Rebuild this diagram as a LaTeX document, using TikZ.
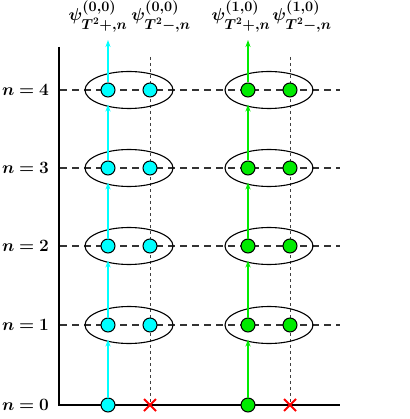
\documentclass[tikz,border=0pt]{standalone}
\usepackage{amsmath,bm}
\usetikzlibrary{arrows.meta,shapes.geometric}
\DeclareMathSizes{19}{19}{13.5}{10}
\DeclareMathSizes{17}{17}{12}{9}
\definecolor{cy}{RGB}{0,255,255}
\definecolor{gr}{RGB}{0,235,0}
\begin{document}
\begin{tikzpicture}[x=1pt,y=-1pt,
  dot/.style={circle,draw=black,line width=1pt,minimum size=14pt,inner sep=0pt},
  cdot/.style={dot,fill=cy},
  gdot/.style={dot,fill=gr},
  ell/.style={ellipse,draw=black,line width=1.1pt,minimum width=88pt,minimum height=37pt,inner sep=0pt},
  hdash/.style={draw=black!80,line width=1.1pt,dash pattern=on 7pt off 5pt},
  vdot/.style={draw=black!75,line width=0.8pt,dash pattern=on 3pt off 3pt},
  carr/.style={cy,line width=1.6pt,-{Stealth[length=7pt,width=5pt]}},
  garr/.style={gr,line width=1.6pt,-{Stealth[length=7pt,width=5pt]}},
  cross/.style={red,line width=2pt},
  lab/.style={font=\fontsize{17}{20}\selectfont,inner sep=0pt},
  tlab/.style={font=\fontsize{19}{23}\selectfont,inner sep=0pt,anchor=base}
]
\useasboundingbox (0,0) rectangle (409,419);
% dotted verticals
\coordinate (dt1) at (150,57);
\coordinate (db1) at (150,405);
\coordinate (dt2) at (290,57);
\coordinate (db2) at (290,405);
\draw[vdot] (dt1) -- (db1);
\draw[vdot] (dt2) -- (db2);
% horizontal dashed lines
\foreach \k/\y in {1/325,2/246,3/168,4/90}{
  \coordinate (hl\k) at (60,\y);
  \coordinate (hr\k) at (340,\y);
  \draw[hdash] (hl\k) -- (hr\k);
  \node[lab,anchor=east] (n\k) at (49,\y) {$\bm{n=\k}$};
}
\node[lab,anchor=east] (n0) at (49,405) {$\bm{n=0}$};
% axes
\coordinate (ax0) at (59,405);
\coordinate (axt) at (59,47);
\coordinate (axr) at (340,405);
\draw[black,line width=2pt] (axt) -- (ax0) -- (axr);
% ellipses
\foreach \k/\y in {1/325,2/246,3/168,4/90}{
  \node[ell] (e\k) at (129,\y) {};
  \node[ell] (f\k) at (269,\y) {};
}
% arrows
\coordinate (ctop) at (108,40);
\coordinate (gtop) at (248,40);
\node[cdot] (a0) at (108,405) {};
\node[gdot] (g0) at (248,405) {};
\foreach \k/\y in {1/325,2/246,3/168,4/90}{
  \node[cdot] (a\k) at (108,\y) {};
  \node[cdot] (b\k) at (150,\y) {};
  \node[gdot] (g\k) at (248,\y) {};
  \node[gdot] (h\k) at (290,\y) {};
}
\foreach \i/\j in {0/1,1/2,2/3,3/4}{
  \draw[carr] (a\i.north) -- ([yshift=-7pt]a\j.south);
  \draw[garr] (g\i.north) -- ([yshift=-7pt]g\j.south);
}
\draw[carr] (a4.north) -- (ctop);
\draw[garr] (g4.north) -- (gtop);
% crosses
\foreach \x/\nm in {150/x1,290/x2}{
  \coordinate (\nm) at (\x,405);
  \draw[cross] ([shift={(-6pt,-6pt)}]\nm) -- ([shift={(6pt,6pt)}]\nm);
  \draw[cross] ([shift={(-6pt,6pt)}]\nm) -- ([shift={(6pt,-6pt)}]\nm);
}
% top labels
\node[tlab] (t1) at (98,21) {$\bm{\psi^{(0,0)}_{T^2+,n}}$};
\node[tlab] (t2) at (161,21) {$\bm{\psi^{(0,0)}_{T^2-,n}}$};
\node[tlab] (t3) at (241,21) {$\bm{\psi^{(1,0)}_{T^2+,n}}$};
\node[tlab] (t4) at (302,21) {$\bm{\psi^{(1,0)}_{T^2-,n}}$};
\end{tikzpicture}
\end{document}
